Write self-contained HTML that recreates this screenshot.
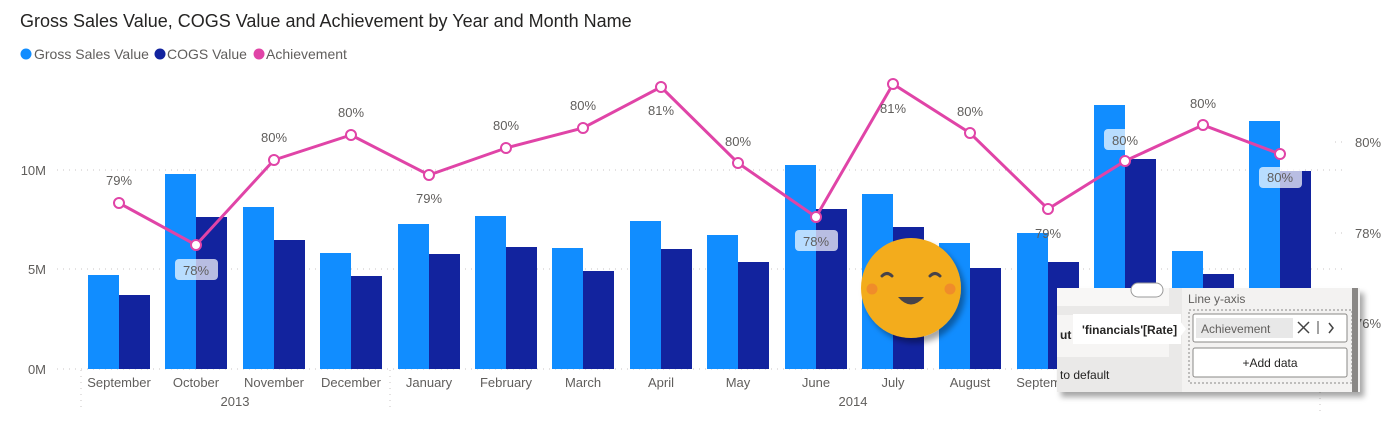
<!DOCTYPE html>
<html><head><meta charset="utf-8"><style>
body{margin:0;background:#fff;width:1395px;height:437px;overflow:hidden;font-family:"Liberation Sans",sans-serif}
</style></head><body>
<svg width="1395" height="437" xmlns="http://www.w3.org/2000/svg" font-family="Liberation Sans, sans-serif">
<defs><filter id="sh" x="-20%" y="-20%" width="150%" height="160%"><feDropShadow dx="4" dy="5" stdDeviation="3" flood-color="#000" flood-opacity="0.35"/></filter></defs>
<text x="20" y="27" font-size="18" fill="#252423">Gross Sales Value, COGS Value and Achievement by Year and Month Name</text>
<circle cx="26" cy="54" r="5.5" fill="#118dff"/><text x="34" y="59" font-size="14" fill="#605e5c">Gross Sales Value</text>
<circle cx="160" cy="54" r="5.5" fill="#12239e"/><text x="167" y="59" font-size="14" fill="#605e5c">COGS Value</text>
<circle cx="259" cy="54" r="5.5" fill="#e044a7"/><text x="266" y="59" font-size="14" fill="#605e5c">Achievement</text>
<g stroke="#c8c6c4" stroke-dasharray="1,5" stroke-width="1">
<line x1="57" y1="170" x2="1345" y2="170"/><line x1="57" y1="269" x2="1345" y2="269"/><line x1="57" y1="369" x2="1345" y2="369"/>
<line x1="1335" y1="142" x2="1345" y2="142"/><line x1="1335" y1="233" x2="1345" y2="233"/>
<line x1="81" y1="370" x2="81" y2="412"/><line x1="390" y1="370" x2="390" y2="412"/><line x1="1320" y1="392" x2="1320" y2="412"/>
</g>
<g font-size="13" fill="#605e5c" text-anchor="end">
<text x="46" y="175">10M</text><text x="46" y="274">5M</text><text x="46" y="374">0M</text>
</g>
<g font-size="13" fill="#605e5c">
<text x="1355" y="147">80%</text><text x="1355" y="238">78%</text><text x="1355" y="328">76%</text>
</g>
<g fill="#118dff">
<rect x="88" y="275" width="31" height="94"/><rect x="165" y="174" width="31" height="195"/><rect x="243" y="207" width="31" height="162"/><rect x="320" y="253" width="31" height="116"/>
<rect x="398" y="224" width="31" height="145"/><rect x="475" y="216" width="31" height="153"/><rect x="552" y="248" width="31" height="121"/><rect x="630" y="221" width="31" height="148"/>
<rect x="707" y="235" width="31" height="134"/><rect x="785" y="165" width="31" height="204"/><rect x="862" y="194" width="31" height="175"/><rect x="939" y="243" width="31" height="126"/>
<rect x="1017" y="233" width="31" height="136"/><rect x="1094" y="105" width="31" height="264"/><rect x="1172" y="251" width="31" height="118"/><rect x="1249" y="121" width="31" height="248"/>
</g>
<g fill="#12239e">
<rect x="119" y="295" width="31" height="74"/><rect x="196" y="217" width="31" height="152"/><rect x="274" y="240" width="31" height="129"/><rect x="351" y="276" width="31" height="93"/>
<rect x="429" y="254" width="31" height="115"/><rect x="506" y="247" width="31" height="122"/><rect x="583" y="271" width="31" height="98"/><rect x="661" y="249" width="31" height="120"/>
<rect x="738" y="262" width="31" height="107"/><rect x="816" y="209" width="31" height="160"/><rect x="893" y="227" width="31" height="142"/><rect x="970" y="268" width="31" height="101"/>
<rect x="1048" y="262" width="31" height="107"/><rect x="1125" y="159" width="31" height="210"/><rect x="1203" y="274" width="31" height="95"/><rect x="1280" y="171" width="31" height="198"/>
</g>
<polyline fill="none" stroke="#e044a7" stroke-width="3" points="119,203 196,245 274,160 351,135 429,175 506,148 583,128 661,87 738,163 816,217 893,84 970,133 1048,209 1125,161 1203,125 1280,154"/>
<g fill="#fff" stroke="#e044a7" stroke-width="2">
<circle cx="119" cy="203" r="5"/><circle cx="196" cy="245" r="5"/><circle cx="274" cy="160" r="5"/><circle cx="351" cy="135" r="5"/><circle cx="429" cy="175" r="5"/><circle cx="506" cy="148" r="5"/><circle cx="583" cy="128" r="5"/><circle cx="661" cy="87" r="5"/><circle cx="738" cy="163" r="5"/><circle cx="816" cy="217" r="5"/><circle cx="893" cy="84" r="5"/><circle cx="970" cy="133" r="5"/><circle cx="1048" cy="209" r="5"/><circle cx="1125" cy="161" r="5"/><circle cx="1203" cy="125" r="5"/><circle cx="1280" cy="154" r="5"/>
</g>
<g fill="#fff" fill-opacity="0.7">
<rect x="175" y="259" width="43" height="21" rx="4"/><rect x="795" y="230" width="43" height="21" rx="4"/><rect x="1104" y="129" width="43" height="21" rx="4"/><rect x="1259" y="167" width="43" height="21" rx="4"/>
</g>
<g font-size="13" fill="#605e5c" text-anchor="middle">
<text x="119" y="185">79%</text><text x="196" y="275">78%</text><text x="274" y="142">80%</text><text x="351" y="117">80%</text><text x="429" y="203">79%</text><text x="506" y="130">80%</text><text x="583" y="110">80%</text><text x="661" y="115">81%</text><text x="738" y="146">80%</text><text x="816" y="246">78%</text><text x="893" y="113">81%</text><text x="970" y="116">80%</text><text x="1048" y="238">79%</text><text x="1125" y="145">80%</text><text x="1203" y="108">80%</text><text x="1280" y="182">80%</text>
</g>
<g font-size="13" fill="#605e5c" text-anchor="middle">
<text x="119" y="387">September</text><text x="196" y="387">October</text><text x="274" y="387">November</text><text x="351" y="387">December</text><text x="429" y="387">January</text><text x="506" y="387">February</text><text x="583" y="387">March</text><text x="661" y="387">April</text><text x="738" y="387">May</text><text x="816" y="387">June</text><text x="893" y="387">July</text><text x="970" y="387">August</text><text x="1048" y="387">September</text>
<text x="235" y="406">2013</text><text x="853" y="406">2014</text>
</g>
<g filter="url(#sh)"><circle cx="911" cy="288" r="50" fill="#f3ac1d"/></g>
<circle cx="872" cy="289" r="5.5" fill="#f08c2a"/><circle cx="950" cy="289" r="5.5" fill="#f08c2a"/>
<path d="M882 276 q5 -5 10 0 M930 276 q5 -5 10 0" stroke="#46434a" stroke-width="3" fill="none" stroke-linecap="round"/>
<path d="M898 297 q13 15 26 0 z" fill="#46434a"/>
<g filter="url(#sh)"><rect x="1057" y="288" width="303" height="104" fill="#f3f2f1"/></g>
<rect x="1057" y="288" width="125" height="104" fill="#eae9e8"/>
<rect x="1057" y="288" width="112" height="18" fill="#f8f7f6"/>
<rect x="1131" y="283" width="32" height="14" rx="7" fill="#fff" stroke="#999"/>
<rect x="1057" y="315" width="112" height="42" fill="#f6f5f4"/>
<rect x="1352" y="288" width="6" height="104" fill="#8a8886"/>
<text x="1060" y="339" font-size="12" font-weight="bold" fill="#252423">ut</text>
<text x="1060" y="379" font-size="12" fill="#252423">to default</text>
<rect x="1073" y="314" width="108" height="30" fill="#fff"/>
<path d="M1180 321 l6 8 l-6 8 z" fill="#fff"/>
<text x="1082" y="334" font-size="12" font-weight="bold" fill="#252423">'financials'[Rate]</text>
<text x="1188" y="303" font-size="12" fill="#605e5c">Line y-axis</text>
<rect x="1189" y="310" width="163" height="73" fill="none" stroke="#8a8886" stroke-dasharray="2,2"/>
<rect x="1193" y="314" width="154" height="28" rx="2" fill="#fff" stroke="#8a8886"/>
<rect x="1196" y="318" width="97" height="20" fill="#e8e8e8"/>
<text x="1201" y="333" font-size="12" fill="#605e5c">Achievement</text>
<path d="M1298 322 l11 11 M1309 322 l-11 11" stroke="#444" stroke-width="1.5"/>
<line x1="1318" y1="321" x2="1318" y2="334" stroke="#444"/>
<path d="M1329 323 l4 5 l-4 5" stroke="#444" stroke-width="1.5" fill="none"/>
<rect x="1193" y="348" width="154" height="29" rx="2" fill="#fff" stroke="#8a8886"/>
<text x="1270" y="367" font-size="12" fill="#252423" text-anchor="middle">+Add data</text>
</svg>
</body></html>
